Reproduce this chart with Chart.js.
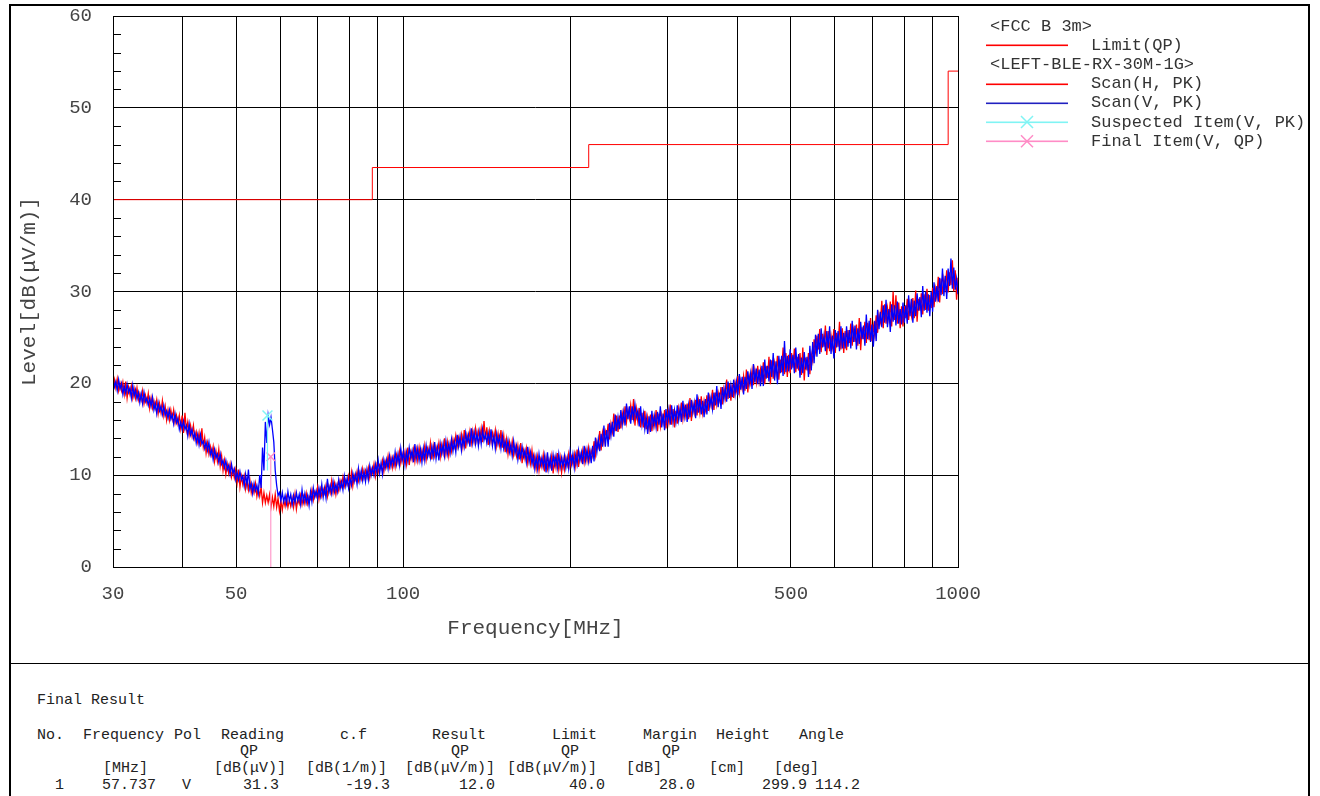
<!DOCTYPE html>
<html>
<head>
<meta charset="utf-8">
<script src="https://cdn.jsdelivr.net/npm/chart.js@4.4.1/dist/chart.umd.min.js"></script>
<style>
  html, body { margin: 0; padding: 0; background: #fff; }
  body { width: 1320px; height: 796px; position: relative; overflow: hidden;
         font-family: "Liberation Mono", "DejaVu Sans Mono", monospace; }
  #frame { position: absolute; left: 9px; top: 4px; width: 1301px; height: 830px;
           border: 2px solid #000; box-sizing: border-box; }
  #divider { position: absolute; left: 9px; top: 663px; width: 1301px; height: 1px; background: #000; }
  #chart { position: absolute; left: 0; top: 0; }
  .t { position: absolute; font-size: 15px; line-height: 16px; color: #222; white-space: pre; }
</style>
</head>
<body>
<div id="frame"></div>
<div id="divider"></div>
<canvas id="chart" width="1320" height="663"></canvas>

<!-- result table -->
<div class="t" style="left:37px; top:693px">Final Result</div>

<div class="t" style="left:37px; top:728px">No.</div>
<div class="t" style="left:83px; top:728px">Frequency</div>
<div class="t" style="left:174px; top:728px">Pol</div>
<div class="t" style="left:221px; top:728px">Reading</div>
<div class="t" style="left:340px; top:728px">c.f</div>
<div class="t" style="left:432px; top:728px">Result</div>
<div class="t" style="left:552px; top:728px">Limit</div>
<div class="t" style="left:643px; top:728px">Margin</div>
<div class="t" style="left:716px; top:728px">Height</div>
<div class="t" style="left:799px; top:728px">Angle</div>

<div class="t" style="left:240px; top:744px">QP</div>
<div class="t" style="left:451px; top:744px">QP</div>
<div class="t" style="left:561px; top:744px">QP</div>
<div class="t" style="left:662px; top:744px">QP</div>

<div class="t" style="left:103px; top:761px">[MHz]</div>
<div class="t" style="left:214px; top:761px">[dB(μV)]</div>
<div class="t" style="left:306px; top:761px">[dB(1/m)]</div>
<div class="t" style="left:405px; top:761px">[dB(μV/m)]</div>
<div class="t" style="left:507px; top:761px">[dB(μV/m)]</div>
<div class="t" style="left:626px; top:761px">[dB]</div>
<div class="t" style="left:709px; top:761px">[cm]</div>
<div class="t" style="left:774px; top:761px">[deg]</div>

<div class="t" style="left:55px; top:778px">1</div>
<div class="t" style="left:102px; top:778px">57.737</div>
<div class="t" style="left:182px; top:778px">V</div>
<div class="t" style="left:243px; top:778px">31.3</div>
<div class="t" style="left:345px; top:778px">-19.3</div>
<div class="t" style="left:459px; top:778px">12.0</div>
<div class="t" style="left:569px; top:778px">40.0</div>
<div class="t" style="left:659px; top:778px">28.0</div>
<div class="t" style="left:762px; top:778px">299.9</div>
<div class="t" style="left:815px; top:778px">114.2</div>

<script>
// ---- data ----
const SWEEP_START_MHZ = 30;
const SWEEP_STOP_MHZ = 1000;

const X_GRID = [30, 40, 50, 60, 70, 80, 90, 100, 200, 300, 400, 500, 600, 700, 800, 900, 1000];
const X_LABELS = [30, 50, 100, 500, 1000];

// FCC class B 3m quasi-peak limit (stepped)
const LIMIT_FREQ = [30, 88, 88, 216, 216, 960, 960, 1000];
const LIMIT_LEVEL = [40, 40, 43.5, 43.5, 46, 46, 54, 54];

// peak-detector scans, 300 sweep bins 30 MHz..1 GHz.
// each bin holds the upper and lower excursion of the noisy trace.
const SCAN_V_HI = [
  20.6, 20.2, 20.4, 20.0, 19.7, 19.9, 19.5, 19.8, 19.3, 19.0,
  18.9, 19.0, 18.4, 18.4, 18.5, 17.8, 17.9, 17.5, 17.6, 17.0,
  17.1, 16.6, 16.7, 16.2, 15.8, 15.9, 15.4, 15.6, 15.0, 14.6,
  14.4, 14.4, 13.7, 13.6, 13.6, 12.8, 12.8, 12.3, 12.3, 11.6,
  11.6, 11.1, 11.2, 10.7, 10.3, 10.4, 9.9, 10.1, 10.6, 9.1,
  9.1, 8.9, 10.0, 13.0, 15.8, 16.5, 16.3, 13.6, 8.9, 8.1,
  8.1, 7.8, 8.2, 7.9, 7.8, 8.1, 7.9, 8.4, 8.0, 7.8,
  8.2, 8.6, 8.3, 8.6, 9.0, 8.6, 9.6, 8.9, 9.3, 9.0,
  9.5, 9.3, 9.9, 9.7, 9.7, 10.2, 10.1, 10.7, 10.5, 10.4,
  10.6, 11.0, 10.8, 11.2, 11.6, 11.3, 11.7, 11.7, 12.1, 11.9,
  12.5, 12.3, 12.9, 12.6, 12.5, 13.0, 12.7, 13.4, 12.9, 12.8,
  12.9, 13.2, 12.9, 13.1, 13.6, 13.0, 13.4, 13.4, 13.7, 13.4,
  13.9, 13.7, 14.4, 14.2, 14.1, 14.6, 14.4, 15.1, 14.7, 14.6,
  14.7, 15.0, 14.5, 14.6, 15.0, 14.3, 14.5, 14.2, 14.3, 13.7,
  13.8, 13.3, 13.7, 13.2, 12.9, 13.1, 12.7, 13.1, 12.5, 12.1,
  12.0, 12.3, 11.9, 12.1, 12.5, 11.9, 12.2, 12.1, 12.3, 11.9,
  12.1, 11.9, 12.5, 12.3, 12.2, 12.7, 12.5, 13.2, 12.8, 12.7,
  13.2, 14.1, 13.9, 14.5, 15.4, 14.9, 15.7, 15.8, 16.6, 16.3,
  17.1, 16.9, 17.8, 17.5, 17.5, 17.7, 17.0, 17.5, 16.7, 16.3,
  16.4, 17.0, 16.5, 16.9, 17.5, 16.7, 17.2, 17.1, 17.6, 17.1,
  17.6, 17.3, 18.1, 17.7, 17.6, 18.2, 17.9, 18.8, 18.3, 18.1,
  18.3, 19.0, 18.5, 19.0, 19.7, 19.0, 19.6, 19.6, 20.2, 19.8,
  20.4, 20.2, 21.0, 20.7, 20.7, 21.3, 21.1, 22.1, 21.6, 21.5,
  21.9, 22.6, 21.9, 22.6, 23.3, 22.4, 23.0, 23.0, 24.6, 23.0,
  23.7, 23.1, 23.9, 23.2, 22.8, 23.4, 22.9, 24.1, 24.5, 25.3,
  25.4, 26.0, 25.2, 25.7, 26.2, 25.2, 25.8, 25.7, 26.2, 25.5,
  26.2, 25.8, 26.8, 26.3, 26.0, 26.7, 26.3, 27.5, 26.8, 26.4,
  26.8, 28.0, 27.8, 28.5, 29.1, 28.1, 28.6, 28.5, 28.9, 28.1,
  28.8, 28.5, 29.6, 29.2, 29.0, 29.8, 29.4, 30.6, 30.0, 29.7,
  30.0, 31.0, 30.6, 31.5, 32.5, 31.7, 32.5, 33.6, 32.6, 31.4
];
const SCAN_V_LO = [
  19.6, 19.2, 19.4, 18.8, 18.9, 19.0, 18.4, 18.6, 18.3, 17.9,
  17.8, 18.0, 17.6, 17.5, 17.1, 16.7, 17.0, 16.6, 16.5, 16.2,
  16.1, 15.6, 15.7, 15.0, 15.0, 15.0, 14.3, 14.4, 14.0, 13.5,
  13.3, 13.4, 12.9, 12.7, 12.2, 11.7, 11.9, 11.4, 11.2, 10.8,
  10.6, 10.1, 10.2, 9.5, 9.5, 9.5, 8.8, 8.9, 8.5, 8.0,
  8.3, 8.0, 8.6, 10.5, 13.5, 15.5, 15.0, 10.5, 7.8, 7.2,
  7.1, 6.9, 7.2, 6.8, 7.0, 7.2, 6.8, 7.1, 7.0, 6.7,
  7.1, 7.6, 7.5, 7.7, 7.6, 7.5, 8.1, 8.0, 8.2, 8.2,
  8.5, 8.4, 8.8, 8.6, 8.9, 9.3, 9.0, 9.4, 9.4, 9.3,
  9.5, 10.0, 10.0, 10.3, 10.2, 10.1, 10.8, 10.7, 11.0, 11.1,
  11.2, 11.1, 11.6, 11.1, 11.5, 11.9, 11.4, 11.8, 11.6, 11.4,
  11.6, 12.0, 11.9, 12.0, 11.8, 11.6, 12.3, 12.1, 12.3, 12.4,
  12.6, 12.5, 13.1, 12.7, 13.1, 13.5, 13.1, 13.5, 13.4, 13.2,
  13.4, 13.8, 13.5, 13.5, 13.2, 12.9, 13.4, 12.9, 12.9, 12.7,
  12.5, 12.1, 12.4, 11.7, 11.9, 12.0, 11.4, 11.5, 11.2, 10.7,
  10.7, 11.1, 10.9, 10.3, 10.7, 10.5, 11.1, 10.8, 10.9, 10.9,
  10.8, 10.7, 11.2, 10.8, 11.2, 11.6, 11.2, 11.6, 11.5, 11.3,
  11.5, 12.5, 12.6, 13.1, 13.1, 13.1, 14.3, 14.2, 14.8, 15.0,
  15.5, 15.4, 16.1, 15.6, 16.2, 16.3, 15.3, 15.5, 15.0, 14.5,
  14.7, 15.4, 15.2, 15.5, 15.2, 14.9, 15.8, 15.5, 15.8, 15.8,
  16.0, 15.8, 16.4, 15.8, 16.3, 16.8, 16.2, 16.8, 16.6, 16.3,
  16.6, 17.4, 17.2, 17.6, 17.4, 17.2, 18.2, 18.0, 18.4, 18.5,
  18.8, 18.7, 19.3, 18.8, 19.4, 19.9, 19.4, 20.1, 19.9, 19.7,
  19.7, 20.5, 20.2, 20.7, 20.3, 19.9, 21.1, 20.8, 21.2, 21.3,
  21.5, 21.1, 21.6, 20.6, 21.1, 21.5, 20.7, 21.4, 22.2, 22.9,
  23.2, 23.9, 23.5, 23.8, 23.2, 22.7, 23.9, 23.5, 23.8, 23.8,
  24.0, 23.8, 24.5, 23.7, 24.3, 24.8, 24.1, 24.8, 24.5, 24.0,
  24.6, 25.9, 26.1, 26.6, 26.1, 25.6, 26.7, 26.3, 26.5, 26.4,
  26.6, 26.5, 27.3, 26.6, 27.3, 27.9, 27.2, 27.9, 27.7, 27.3,
  27.8, 28.9, 28.9, 29.6, 29.5, 29.2, 30.6, 30.3, 30.2, 29.7
];
const SCAN_H_HI = [
  20.4, 20.5, 20.0, 20.1, 20.2, 19.6, 19.7, 19.4, 19.5, 18.9,
  19.2, 18.7, 18.9, 18.4, 18.1, 18.2, 17.8, 18.1, 17.5, 17.1,
  17.1, 17.1, 16.5, 16.5, 16.5, 16.8, 15.8, 15.4, 15.4, 14.7,
  14.6, 15.1, 14.1, 13.5, 13.1, 13.1, 12.6, 12.8, 12.1, 11.6,
  11.2, 11.2, 10.6, 10.6, 10.6, 9.9, 9.9, 9.5, 9.5, 8.9,
  9.1, 8.6, 8.7, 8.1, 7.8, 7.9, 7.6, 7.9, 7.5, 7.2,
  7.3, 7.6, 7.3, 7.5, 7.9, 7.4, 7.8, 7.7, 8.0, 7.7,
  8.4, 8.2, 8.7, 8.5, 8.5, 8.9, 8.8, 9.4, 9.1, 9.0,
  9.4, 9.8, 9.5, 9.9, 10.3, 10.0, 10.4, 10.3, 10.7, 10.5,
  10.8, 10.7, 11.2, 11.1, 11.1, 11.6, 11.5, 12.1, 11.9, 11.9,
  12.2, 12.6, 12.3, 12.5, 13.0, 12.5, 12.8, 12.8, 13.0, 12.7,
  13.2, 12.9, 13.5, 13.2, 13.1, 13.5, 13.3, 14.0, 13.6, 13.5,
  13.9, 14.3, 14.1, 14.4, 14.9, 14.4, 14.8, 14.8, 15.1, 14.8,
  15.1, 15.9, 15.2, 14.8, 14.6, 14.9, 14.5, 14.9, 14.3, 13.9,
  13.6, 13.7, 13.2, 13.2, 13.5, 12.7, 12.9, 12.6, 12.7, 12.1,
  12.0, 11.7, 12.2, 11.9, 11.7, 12.1, 11.8, 12.4, 11.9, 11.7,
  11.9, 12.3, 12.0, 12.3, 12.8, 12.3, 12.7, 12.7, 13.0, 12.7,
  13.7, 13.7, 14.8, 14.6, 14.8, 15.6, 15.6, 16.7, 16.5, 16.5,
  16.8, 17.5, 17.1, 17.6, 18.3, 17.2, 17.3, 16.8, 17.0, 16.3,
  16.6, 16.3, 17.1, 16.7, 16.6, 17.1, 16.8, 17.7, 17.2, 17.0,
  17.3, 17.9, 17.4, 17.8, 18.4, 17.7, 18.2, 18.1, 18.6, 18.1,
  18.7, 18.5, 19.3, 19.0, 19.0, 19.6, 19.4, 20.4, 20.0, 19.9,
  20.1, 20.8, 20.3, 20.8, 21.5, 20.8, 21.4, 21.4, 21.9, 21.5,
  22.3, 21.9, 22.9, 22.5, 22.2, 23.0, 22.6, 23.9, 23.3, 23.1,
  23.3, 23.8, 22.9, 23.3, 23.9, 22.8, 23.3, 23.2, 24.8, 25.2,
  25.9, 25.4, 26.3, 25.7, 25.2, 25.9, 25.5, 26.7, 26.0, 25.7,
  25.8, 26.5, 25.8, 26.4, 27.1, 26.1, 26.7, 26.6, 27.1, 26.3,
  27.4, 27.5, 29.0, 28.6, 28.2, 28.9, 30.0, 29.6, 28.8, 28.4,
  28.4, 29.2, 28.6, 29.3, 30.1, 29.2, 29.8, 29.7, 30.3, 29.6,
  30.4, 30.3, 31.6, 31.4, 31.4, 32.3, 32.1, 33.4, 32.3, 31.5
];
const SCAN_H_LO = [
  19.3, 19.5, 19.2, 19.2, 18.8, 18.4, 18.8, 18.4, 18.4, 18.2,
  18.2, 17.8, 17.9, 17.3, 17.3, 17.3, 16.7, 16.8, 16.5, 16.0,
  16.0, 16.1, 15.7, 15.6, 15.1, 14.6, 14.9, 14.4, 14.3, 14.0,
  13.6, 13.1, 13.1, 12.4, 12.3, 12.2, 11.5, 11.5, 11.0, 10.5,
  10.1, 10.2, 9.8, 9.7, 9.2, 8.7, 9.0, 8.5, 8.4, 8.1,
  8.1, 7.7, 7.7, 7.0, 7.0, 7.0, 6.5, 6.6, 6.5, 6.1,
  6.2, 6.6, 6.5, 6.6, 6.5, 6.3, 6.9, 6.8, 6.9, 6.9,
  7.4, 7.3, 7.7, 7.4, 7.7, 8.0, 7.7, 8.1, 8.1, 7.9,
  8.3, 8.8, 8.8, 9.0, 8.9, 8.8, 9.5, 9.4, 9.6, 9.7,
  9.8, 9.7, 10.2, 9.9, 10.3, 10.7, 10.4, 10.9, 10.9, 10.8,
  10.9, 11.4, 11.3, 11.4, 11.2, 11.1, 11.7, 11.5, 11.6, 11.7,
  11.9, 11.7, 12.2, 11.7, 12.1, 12.4, 12.0, 12.4, 12.3, 12.1,
  12.6, 13.1, 13.1, 13.3, 13.1, 12.9, 13.7, 13.5, 13.7, 13.8,
  13.8, 13.6, 13.9, 13.3, 13.6, 13.8, 13.2, 13.3, 13.0, 12.5,
  12.3, 12.5, 12.2, 12.1, 11.7, 11.3, 11.8, 11.3, 11.3, 11.1,
  10.7, 10.5, 10.9, 10.4, 10.7, 11.0, 10.2, 10.8, 10.6, 10.3,
  10.6, 11.1, 11.0, 11.2, 11.0, 10.9, 11.6, 11.4, 11.6, 11.7,
  12.1, 12.2, 13.1, 12.7, 13.5, 14.2, 13.9, 14.7, 14.8, 14.7,
  15.1, 15.9, 15.8, 16.2, 16.0, 15.4, 15.9, 15.2, 15.2, 15.0,
  15.0, 14.8, 15.4, 14.8, 15.3, 15.7, 15.1, 15.7, 15.5, 15.2,
  15.6, 16.3, 16.1, 16.4, 16.1, 15.9, 16.8, 16.5, 16.8, 16.8,
  17.1, 17.0, 17.6, 17.1, 17.7, 18.2, 17.7, 18.4, 18.3, 18.1,
  18.4, 19.2, 19.0, 19.4, 19.2, 19.0, 20.0, 19.8, 20.1, 20.2,
  20.1, 19.9, 20.6, 19.9, 20.5, 21.1, 20.4, 21.2, 21.0, 20.7,
  21.1, 21.7, 21.2, 21.4, 20.9, 20.3, 21.4, 21.0, 22.4, 23.5,
  23.7, 23.4, 24.0, 23.1, 23.5, 24.0, 23.3, 24.0, 23.7, 23.3,
  23.6, 24.4, 24.1, 24.5, 24.1, 23.6, 24.8, 24.4, 24.7, 24.6,
  25.2, 25.5, 26.7, 26.0, 26.5, 27.0, 26.2, 26.9, 26.5, 26.0,
  26.2, 27.1, 26.9, 27.4, 27.1, 26.7, 27.9, 27.5, 28.0, 27.9,
  28.2, 28.3, 29.3, 28.8, 29.7, 30.4, 29.9, 30.7, 30.0, 29.1
];

// suspected (peak) and final (quasi-peak) items
const SUSPECT_FREQ = [56.95];
const SUSPECT_LEVEL = [16.5];
const SUSPECT_FLOOR = [10.5];
const FINAL_FREQ = [57.737];
const FINAL_LEVEL = [12.0];

const LEGEND_ROWS = [
  { text: '<FCC B 3m>' },
  { text: 'Limit(QP)', color: '#ff0000' },
  { text: '<LEFT-BLE-RX-30M-1G>' },
  { text: 'Scan(H, PK)', color: '#ff0000' },
  { text: 'Scan(V, PK)', color: '#2020c0' },
  { text: 'Suspected Item(V, PK)', color: '#80f4f4', mark: true },
  { text: 'Final Item(V, QP)', color: '#ff8cc6', mark: true }
];

// ---- helpers ----
// the trace alternates between the upper and lower excursion of each bin
function sweepPoints(first, second) {
  const n = first.length * 2;
  const ratio = SWEEP_STOP_MHZ / SWEEP_START_MHZ;
  const pts = [];
  first.forEach((v, i) => {
    pts.push({ x: SWEEP_START_MHZ * Math.pow(ratio, (2 * i) / (n - 1)), y: v });
    pts.push({ x: SWEEP_START_MHZ * Math.pow(ratio, (2 * i + 1) / (n - 1)), y: second[i] });
  });
  return pts;
}

const MONO = '"Liberation Mono", "DejaVu Sans Mono", monospace';

// frame around plot + minor ticks on the left edge
const plotFrame = {
  id: 'plotFrame',
  afterDatasetsDraw(chart) {
    const { ctx, chartArea: a, scales } = chart;
    ctx.save();
    ctx.strokeStyle = '#000';
    ctx.lineWidth = 1;
    ctx.strokeRect(Math.round(a.left) + 0.5, Math.round(a.top) + 0.5,
                   Math.round(a.right - a.left), Math.round(a.bottom - a.top));
    ctx.beginPath();
    for (let v = 2; v < 60; v += 2) {
      if (v % 10 === 0) continue;
      const y = Math.round(scales.y.getPixelForValue(v)) + 0.5;
      ctx.moveTo(a.left, y);
      ctx.lineTo(a.left + 8, y);
    }
    ctx.stroke();
    ctx.restore();
  }
};

const sideLegend = {
  id: 'sideLegend',
  afterDraw(chart) {
    const { ctx, chartArea: a } = chart;
    const x0 = a.right + 32;
    ctx.save();
    ctx.font = '17px ' + MONO;
    ctx.textBaseline = 'middle';
    LEGEND_ROWS.forEach((row, i) => {
      const y = 26 + i * 19.2;
      if (row.color) {
        ctx.fillStyle = row.color;
        ctx.fillRect(x0 - 4, Math.round(y) - 0.5, 82, 1.6);
        if (row.mark) {
          const cx = x0 + 37, r = 6;
          ctx.strokeStyle = row.color;
          ctx.lineWidth = 1.5;
          ctx.beginPath();
          ctx.moveTo(cx - r, y - r); ctx.lineTo(cx + r, y + r);
          ctx.moveTo(cx + r, y - r); ctx.lineTo(cx - r, y + r);
          ctx.stroke();
        }
      }
      ctx.fillStyle = '#333';
      ctx.fillText(row.text, row.color ? x0 + 101 : x0, y);
    });
    ctx.restore();
  }
};

const limitPoints = LIMIT_FREQ.map((f, i) => ({ x: f, y: LIMIT_LEVEL[i] }));

new Chart(document.getElementById('chart'), {
  type: 'line',
  data: {
    datasets: [
      {
        label: 'Suspected Item(V, PK)',
        data: [{ x: SUSPECT_FREQ[0], y: SUSPECT_LEVEL[0] }, { x: SUSPECT_FREQ[0], y: SUSPECT_FLOOR[0] }],
        borderColor: '#80f4f4', borderWidth: 1.2,
        pointStyle: 'crossRot', pointRadius: [7, 0], pointBorderWidth: 1.5,
        pointBorderColor: '#80f4f4', order: 0
      },
      {
        label: 'Final Item(V, QP)',
        data: [{ x: FINAL_FREQ[0], y: FINAL_LEVEL[0] }, { x: FINAL_FREQ[0], y: 0 }],
        borderColor: '#ff9ccc', borderWidth: 1.2,
        pointStyle: 'crossRot', pointRadius: [6, 0], pointBorderWidth: 1.5,
        pointBorderColor: '#ff8cc6', order: 0
      },
      {
        label: 'Scan(V, PK)',
        data: sweepPoints(SCAN_V_HI, SCAN_V_LO),
        borderColor: '#0000ff', borderWidth: 1.3, pointRadius: 0, order: 1
      },
      {
        label: 'Scan(H, PK)',
        data: sweepPoints(SCAN_H_LO, SCAN_H_HI),
        borderColor: '#ff0000', borderWidth: 1.3, pointRadius: 0, order: 2
      },
      {
        label: 'Limit(QP)',
        data: limitPoints,
        borderColor: '#ff0000', borderWidth: 1, pointRadius: 0, order: 3
      }
    ]
  },
  options: {
    responsive: false,
    animation: false,
    devicePixelRatio: 1,
    layout: { padding: { left: 0, top: 16, right: 362, bottom: 0 } },
    plugins: { legend: { display: false }, tooltip: { enabled: false } },
    scales: {
      x: {
        type: 'logarithmic',
        min: 30, max: 1000,
        afterBuildTicks: s => { s.ticks = X_GRID.map(v => ({ value: v })); },
        afterFit: s => { s.height = 96; },
        grid: { color: '#000', lineWidth: 1, drawTicks: false },
        border: { display: false },
        ticks: {
          autoSkip: false, maxRotation: 0, minRotation: 0, padding: 16,
          color: '#444', font: { family: MONO, size: 19 },
          callback: v => X_LABELS.includes(v) ? String(v) : ''
        },
        title: {
          display: true, text: 'Frequency[MHz]', color: '#444',
          font: { family: MONO, size: 21 }, padding: { top: 0, bottom: 22 }
        }
      },
      y: {
        min: 0, max: 60,
        afterFit: s => { s.width = 113; s.paddingTop = 0; s.paddingBottom = 0; },
        grid: {
          lineWidth: 1, drawTicks: false,
          color: c => (c.tick && c.tick.value % 10 === 0) ? '#000' : 'rgba(0,0,0,0)'
        },
        border: { display: false },
        ticks: {
          stepSize: 2, autoSkip: false, padding: 21,
          color: '#444', font: { family: MONO, size: 19 },
          callback: v => v % 10 === 0 ? String(v) : ''
        },
        title: {
          display: true, text: 'Level[dB(μV/m)]', color: '#444',
          font: { family: MONO, size: 21 }, padding: { top: 17, bottom: 0 }
        }
      }
    }
  },
  plugins: [plotFrame, sideLegend]
});
</script>
</body>
</html>
